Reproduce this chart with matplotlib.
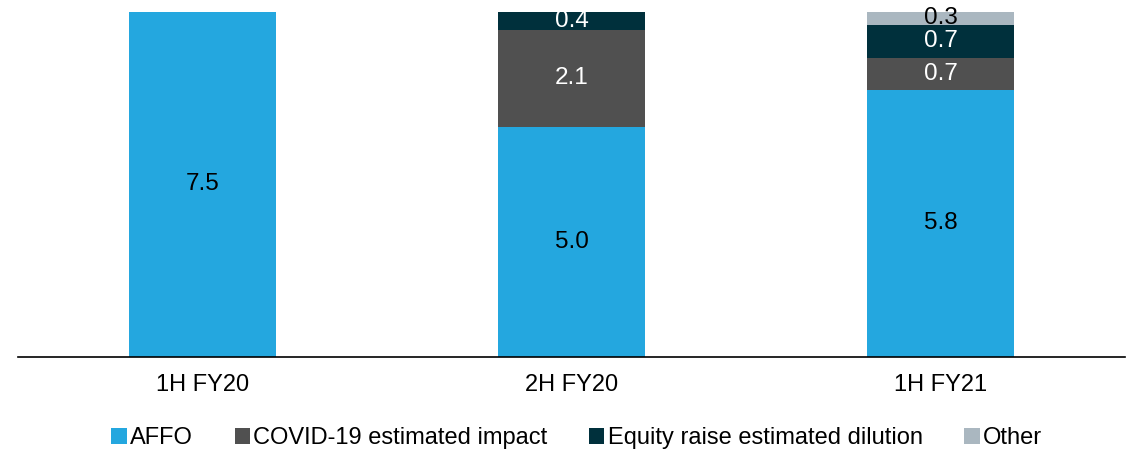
import numpy as np
import matplotlib.pyplot as plt

plt.rcParams['font.family'] = ['Liberation Sans', 'DejaVu Sans']

periods = ['1H FY20', '2H FY20', '1H FY21']
series = ['AFFO', 'COVID-19 estimated impact', 'Equity raise estimated dilution', 'Other']
affo = [7.5, 5.0, 5.8]
covid = [0, 2.1, 0.7]
equity = [0, 0.4, 0.7]
other = [0, 0, 0.3]

colors = ['#24A7DF', '#505050', '#00303C', '#AAB7C0']
label_colors = ['black', 'white', 'white', 'black']

fig = plt.figure(figsize=(11.31, 4.49), dpi=100)
ax = fig.add_axes([18 / 1131, 92 / 449, 1107 / 1131, 345.5 / 449])

x = np.arange(len(periods))
bottom = np.zeros(len(periods))
for name, vals, col, lc in zip(series, [affo, covid, equity, other], colors, label_colors):
    vals = np.array(vals)
    bars = ax.bar(x, vals, 0.4, bottom=bottom, color=col, label=name)
    for xi, b, v in zip(x, bottom, vals):
        if v > 0:
            ax.text(xi, b + v / 2, f'{v:.1f}', ha='center', va='center',
                    color=lc, fontsize=17.5)
    bottom += vals

ax.set_xlim(-0.5, 2.5)
ax.set_ylim(0, 7.5)
ax.set_xticks(x)
ax.set_xticklabels(periods, fontsize=17)
ax.tick_params(axis='x', length=0, pad=12)
ax.set_yticks([])
for s in ['top', 'right', 'left']:
    ax.spines[s].set_visible(False)
ax.spines['bottom'].set_linewidth(1.2)

fig.legend(loc='center', bbox_to_anchor=(0.51, 0.024), ncol=4, frameon=False,
           fontsize=17, handlelength=0.65, handleheight=0.65, handletextpad=0.15,
           columnspacing=1.75)

fig.savefig('out.png', dpi=100)
